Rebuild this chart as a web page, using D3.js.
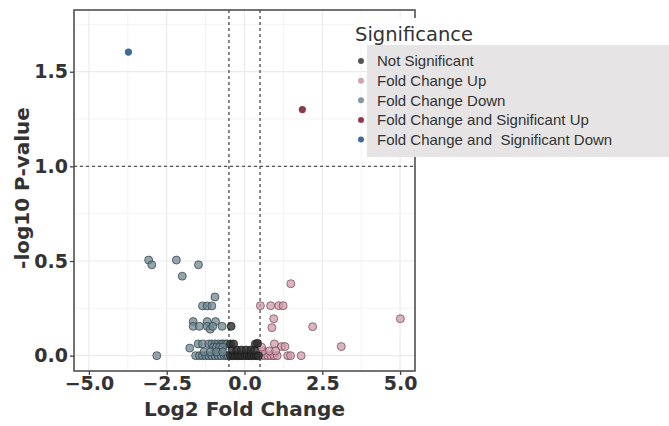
<!DOCTYPE html>
<html>
<head>
<meta charset="utf-8">
<script src="https://cdn.jsdelivr.net/npm/d3@7"></script>
<style>
  body { margin: 0; background: #fff; }
  svg { display: block; }
</style>
</head>
<body>
<div id="chart"></div>
<script>
// volcano plot data
const notSigX = [-0.45, -0.38, -0.3, -0.22, -0.15, -0.08, 0.0, 0.08, 0.15, 0.22, 0.3, 0.38, 0.45,
                 -0.4, -0.25, -0.1, 0.05, 0.2, 0.32, -0.45, -0.35, 0.35, 0.42, -0.43];
const notSigY = [0, 0, 0, 0, 0, 0, 0, 0, 0, 0, 0, 0, 0,
                 0.03, 0.03, 0.03, 0.03, 0.03, 0.03, 0.062, 0.062, 0.062, 0.065, 0.155];

const downX = [-3.08, -2.98, -2.19, -2.0, -1.48, -2.82, -0.95,
               -1.35, -1.2, -1.05, -1.65, -1.2, -0.93,
               -1.65, -1.45, -1.2, -1.1, -1.02, -0.72,
               -1.49, -1.35, -1.15, -1.05, -0.95, -0.85, -0.75, -0.68, -0.6, -0.55,
               -1.76, -1.0, -0.9, -0.8, -0.7,
               -1.57, -1.45, -1.35, -1.25, -1.15, -1.05, -0.95, -0.85, -0.75, -0.65, -0.57, -0.52,
               -1.3, -1.1, -0.9, -0.7];
const downY = [0.505, 0.48, 0.505, 0.42, 0.48, 0.0, 0.31,
               0.263, 0.263, 0.263, 0.18, 0.18, 0.18,
               0.155, 0.155, 0.155, 0.14, 0.155, 0.155,
               0.062, 0.062, 0.062, 0.062, 0.062, 0.062, 0.062, 0.062, 0.062, 0.062,
               0.04, 0.045, 0.045, 0.045, 0.045,
               0, 0, 0, 0, 0, 0, 0, 0, 0, 0, 0, 0,
               0.02, 0.02, 0.02, 0.02];

const upX = [1.49, 0.51, 0.84, 1.1, 1.24, 0.94, 0.88, 2.19, 5.01, 3.11, 0.96, 1.19, 1.3, 1.39, 1.48, 1.82,
             0.55, 0.65, 0.75, 0.85, 0.95, 1.05, 0.6, 0.8, 1.0, 0.55];
const upY = [0.38, 0.264, 0.264, 0.264, 0.264, 0.195, 0.148, 0.153, 0.195, 0.048, 0.062, 0.048, 0.048, 0, 0, 0,
             0, 0, 0, 0, 0, 0, 0.025, 0.025, 0.025, 0.045];

const sigUpX = [1.86], sigUpY = [1.30];
const sigDownX = [-3.73], sigDownY = [1.604];

const legendLabels = ["Not Significant", "Fold Change Up", "Fold Change Down",
                      "Fold Change and Significant Up", "Fold Change and  Significant Down"];
const legendColors = ["#555555", "#cfa3b1", "#84969f", "#8e3a47", "#3f6a99"];

const xTicks = [-5, -2.5, 0, 2.5, 5];
const yTicks = [0, 0.5, 1.0, 1.5];
const xMinor = [-3.75, -1.25, 1.25, 3.75];
const yMinor = [0.25, 0.75, 1.25, 1.75];

const W = 669, H = 426;
const plot = {left: 74, right: 415, top: 10, bottom: 371};

const svg = d3.select("#chart").append("svg")
    .attr("width", W)
    .attr("height", H);

const x = d3.scaleLinear().domain([-5.48, 5.48]).range([plot.left, plot.right]);
const y = d3.scaleLinear().domain([-0.081, 1.826]).range([plot.bottom, plot.top]);

// grid
const grid = svg.append("g");
grid.selectAll(".vminor").data(xMinor).enter().append("line")
    .attr("x1", d => x(d)).attr("x2", d => x(d))
    .attr("y1", plot.top).attr("y2", plot.bottom)
    .attr("stroke", "#f3f3f3").attr("stroke-width", 1);
grid.selectAll(".hminor").data(yMinor).enter().append("line")
    .attr("y1", d => y(d)).attr("y2", d => y(d))
    .attr("x1", plot.left).attr("x2", plot.right)
    .attr("stroke", "#f3f3f3").attr("stroke-width", 1);
grid.selectAll(".vmajor").data(xTicks).enter().append("line")
    .attr("x1", d => x(d)).attr("x2", d => x(d))
    .attr("y1", plot.top).attr("y2", plot.bottom)
    .attr("stroke", "#ebebeb").attr("stroke-width", 1.2);
grid.selectAll(".hmajor").data(yTicks).enter().append("line")
    .attr("y1", d => y(d)).attr("y2", d => y(d))
    .attr("x1", plot.left).attr("x2", plot.right)
    .attr("stroke", "#ebebeb").attr("stroke-width", 1.2);

// threshold lines
const dash = svg.append("g")
    .attr("stroke", "#555").attr("stroke-width", 1.4).attr("stroke-dasharray", "3,3");
[-0.5, 0.5].forEach(v => {
    dash.append("line")
        .attr("x1", x(v)).attr("x2", x(v))
        .attr("y1", plot.top).attr("y2", plot.bottom);
});
dash.append("line")
    .attr("x1", plot.left).attr("x2", plot.right)
    .attr("y1", y(1.0)).attr("y2", y(1.0));

// points
function drawPoints(xs, ys, fill, stroke, opacity) {
    svg.append("g").selectAll("circle")
        .data(xs.map((v, i) => [v, ys[i]]))
        .enter().append("circle")
        .attr("cx", d => x(d[0]))
        .attr("cy", d => y(d[1]))
        .attr("r", 4)
        .attr("fill", fill)
        .attr("fill-opacity", opacity)
        .attr("stroke", stroke)
        .attr("stroke-opacity", 0.8)
        .attr("stroke-width", 0.9);
}
drawPoints(downX, downY, "#6f8892", "#2f3e45", 0.75);
drawPoints(upX, upY, "#d39aab", "#6a4652", 0.75);
drawPoints(notSigX, notSigY, "#2e2e2e", "#1a1a1a", 0.8);

svg.append("g").selectAll("circle")
    .data(sigUpX.map((v, i) => [v, sigUpY[i]]))
    .enter().append("circle")
    .attr("cx", d => x(d[0])).attr("cy", d => y(d[1])).attr("r", 3.6)
    .attr("fill", "#8e3a47");
svg.append("g").selectAll("circle")
    .data(sigDownX.map((v, i) => [v, sigDownY[i]]))
    .enter().append("circle")
    .attr("cx", d => x(d[0])).attr("cy", d => y(d[1])).attr("r", 3.6)
    .attr("fill", "#3f6a99");

// panel border
svg.append("rect")
    .attr("x", plot.left).attr("y", plot.top)
    .attr("width", plot.right - plot.left).attr("height", plot.bottom - plot.top)
    .attr("fill", "none").attr("stroke", "#444").attr("stroke-width", 1.5);

// axes
const xAxis = svg.append("g")
    .attr("transform", `translate(0,${plot.bottom})`)
    .call(d3.axisBottom(x).tickValues(xTicks).tickFormat(d3.format(".1f")).tickSize(4).tickSizeOuter(0));
const yAxis = svg.append("g")
    .attr("transform", `translate(${plot.left},0)`)
    .call(d3.axisLeft(y).tickValues(yTicks).tickFormat(d3.format(".1f")).tickSize(4).tickSizeOuter(0));
[xAxis, yAxis].forEach(a => {
    a.select(".domain").remove();
    a.selectAll(".tick line").attr("stroke", "#444").attr("stroke-width", 1.3);
    a.selectAll(".tick text")
        .attr("fill", "#333")
        .style("font-family", "'DejaVu Sans', sans-serif")
        .style("font-weight", "bold")
        .style("font-size", "19px");
});
xAxis.selectAll(".tick text").attr("dy", "0.71em").attr("y", 6);
yAxis.selectAll(".tick text").attr("x", -6);

svg.append("text")
    .attr("x", x(0)).attr("y", 416)
    .attr("text-anchor", "middle")
    .attr("fill", "#333")
    .style("font-family", "'DejaVu Sans', sans-serif")
    .style("font-weight", "bold")
    .style("font-size", "20px")
    .text("Log2 Fold Change");

svg.append("text")
    .attr("transform", `translate(29,${188}) rotate(-90)`)
    .attr("text-anchor", "middle")
    .attr("fill", "#333")
    .style("font-family", "'DejaVu Sans', sans-serif")
    .style("font-weight", "bold")
    .style("font-size", "20px")
    .text("-log10 P-value");

// legend
const legend = svg.append("g");
legend.append("rect")
    .attr("x", 355).attr("y", 18)
    .attr("width", 130).attr("height", 27)
    .attr("fill", "#fff");
legend.append("text")
    .attr("x", 355).attr("y", 41)
    .attr("fill", "#333")
    .style("font-family", "'DejaVu Sans', sans-serif")
    .style("font-size", "19.5px")
    .text("Significance");
legend.append("rect")
    .attr("x", 367).attr("y", 45)
    .attr("width", W - 367).attr("height", 112)
    .attr("fill", "#e6e4e5");
const rowY = d3.scalePoint().domain(legendLabels).range([61, 139.5]);
legend.selectAll(".dot").data(legendLabels).enter().append("circle")
    .attr("cx", 361).attr("cy", d => rowY(d)).attr("r", 3)
    .attr("fill", (d, i) => legendColors[i]);
legend.selectAll(".lab").data(legendLabels).enter().append("text")
    .attr("x", 377).attr("y", d => rowY(d)).attr("dy", "0.36em")
    .attr("fill", "#333")
    .style("font-family", "'Liberation Sans', Arial, sans-serif")
    .style("font-size", "15px")
    .style("white-space", "pre")
    .text(d => d);
</script>
</body>
</html>
